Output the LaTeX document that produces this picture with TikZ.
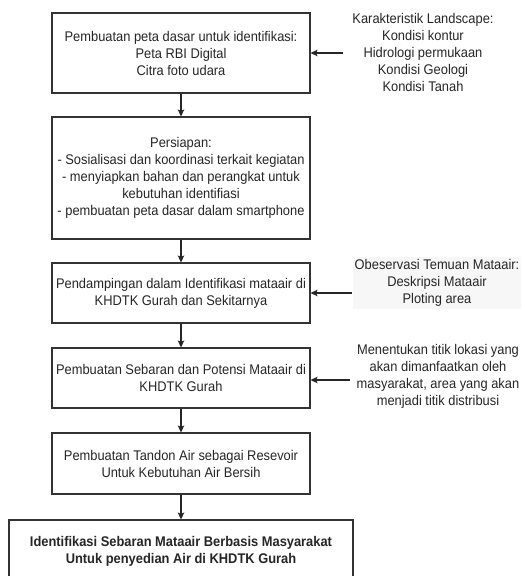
\documentclass[tikz,border=0pt]{standalone}
\usepackage{fontspec}
\setmainfont[FakeStretch=0.92]{Liberation Sans}
\usetikzlibrary{arrows.meta}
\begin{document}
\begin{tikzpicture}[x=1pt,y=-1pt,
  txt/.style={align=center, font=\fontsize{14}{17}\selectfont, inner sep=0pt, text=black!85},
  box/.style={txt, draw=black!80, line width=1.1pt, minimum width=258pt},
  arr/.style={draw=black!85, line width=1.1pt, -{Stealth[length=7pt,width=6.5pt,inset=1.5pt]}}]
\useasboundingbox (0,0) rectangle (525,576);
\fill[white] (0,0) rectangle (525,576);

\node[box, minimum height=80pt] (b1) at (181,53)
  {Pembuatan peta dasar untuk identifikasi:\\Peta RBI Digital\\Citra foto udara};
\node[box, minimum height=122pt] (b2) at (181,178)
  {Persiapan:\\- Sosialisasi dan koordinasi terkait kegiatan\\- menyiapkan bahan dan perangkat untuk\\kebutuhan identifiasi\\- pembuatan peta dasar dalam smartphone};
\node[box, minimum height=60pt] (b3) at (181,293)
  {Pendampingan dalam Identifikasi mataair di\\KHDTK Gurah dan Sekitarnya};
\node[box, minimum height=60pt] (b4) at (181,378)
  {Pembuatan Sebaran dan Potensi Mataair di\\KHDTK Gurah};
\node[box, minimum height=61pt] (b5) at (181,463.5)
  {Pembuatan Tandon Air sebagai Resevoir\\Untuk Kebutuhan Air Bersih};
\node[box, minimum width=344pt, minimum height=62pt, font=\fontsize{14}{17}\selectfont\bfseries] (b6) at (181,551)
  {Identifikasi Sebaran Mataair Berbasis Masyarakat\\Untuk penyedian Air di KHDTK Gurah};

\node[txt] (s1) at (423,52)
  {Karakteristik Landscape:\\Kondisi kontur\\Hidrologi permukaan\\Kondisi Geologi\\Kondisi Tanah};
\node[txt, fill=black!3, inner sep=2pt] (s2) at (437,283)
  {Obeservasi Temuan Mataair:\\Deskripsi Mataair\\Ploting area};
\node[txt] (s3) at (438,376)
  {Menentukan titik lokasi yang\\akan dimanfaatkan oleh\\masyarakat, area yang akan\\menjadi titik distribusi};

\coordinate (c1) at (343,53);
\coordinate (c2) at (352,293);
\coordinate (c3) at (350,380);

\draw[arr] (b1) -- (b2);
\draw[arr] (b2) -- (b3);
\draw[arr] (b3) -- (b4);
\draw[arr] (b4) -- (b5);
\draw[arr] (b5) -- (b6);
\draw[arr] (c1) -- (b1.east |- c1);
\draw[arr] (c2) -- (b3.east);
\draw[arr] (c3) -- (b4.east |- c3);
\end{tikzpicture}
\end{document}
